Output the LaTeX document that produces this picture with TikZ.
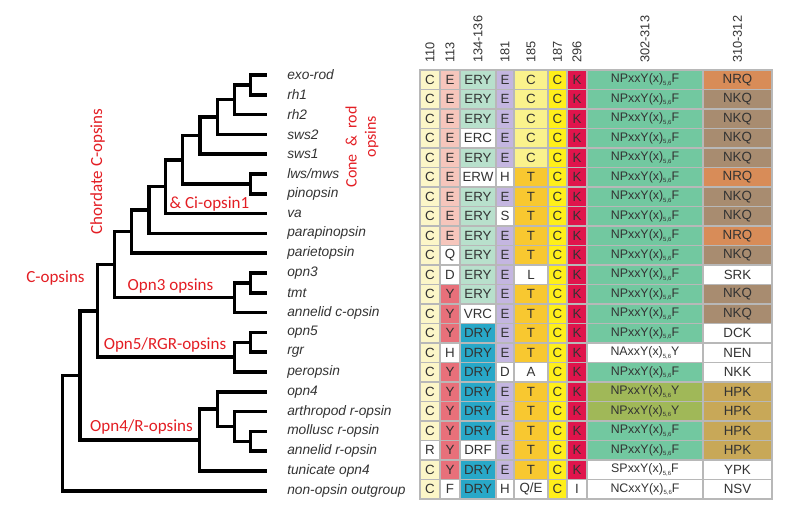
\documentclass[tikz,border=0pt]{standalone}
\usepackage{fontspec}
\setmainfont{Liberation Sans}
\newfontfamily\calib{Carlito}
\definecolor{cpale}{HTML}{FCF6C8}
\definecolor{epink}{HTML}{F6C6BC}
\definecolor{ery}{HTML}{B8E0CC}
\definecolor{elav}{HTML}{C4B6E0}
\definecolor{cyel}{HTML}{FAF28C}
\definecolor{yel}{HTML}{FFEF1A}
\definecolor{kred}{HTML}{E0144C}
\definecolor{npg}{HTML}{72C8A0}
\definecolor{npo}{HTML}{A0B858}
\definecolor{nrq}{HTML}{D88C58}
\definecolor{nkq}{HTML}{A88C70}
\definecolor{hpk}{HTML}{C8A858}
\definecolor{yred}{HTML}{E8707A}
\definecolor{dry}{HTML}{28A8C8}
\definecolor{tora}{HTML}{F8C830}
\definecolor{gridg}{HTML}{B8B8B8}
\definecolor{txt}{HTML}{333333}
\definecolor{redlab}{HTML}{E31E24}
\newcommand{\subf}{\raisebox{-0.4ex}{\fontsize{4.5}{5}\selectfont 5,6}}
\newcommand{\motif}[2]{{\fontsize{9.3}{10}\selectfont #1xxY(x)\subf #2}}
\newcommand{\NPF}{\motif{NP}{F}}
\newcommand{\NPY}{\motif{NP}{Y}}
\newcommand{\NAY}{\motif{NA}{Y}}
\newcommand{\SPF}{\motif{SP}{F}}
\newcommand{\NCF}{\motif{NC}{F}}
\newcommand{\trow}[2]{%
  \foreach \t/\f [count=\c from 0] in {#2} {
    \pgfmathsetmacro\xa{{420,440,460,496,514,548,567,587,703,772}[\c]}
    \pgfmathsetmacro\xb{{420,440,460,496,514,548,567,587,703,772}[\c+1]}
    \pgfmathsetmacro\w{(\xb-\xa)*0.75}
    \node[cellbox, fill=\f, minimum width=\w pt] (r#1c\c) at ({(\xa+\xb)/2},{70+19.5*(#1+0.5)}) {\t};
  }}
\begin{document}
\begin{tikzpicture}[x=0.75pt,y=-0.75pt,
  cellbox/.style={draw=gridg, line width=0.9pt, inner sep=0pt, minimum height=14.625pt,
    font=\fontsize{10}{11}\selectfont, text=txt},
  leaflab/.style={anchor=west, inner sep=0pt, font=\fontsize{10.3}{11}\selectfont\itshape, text=txt},
  headlab/.style={anchor=west, rotate=90, inner sep=0pt, font=\fontsize{9.6}{10}\selectfont, text=txt},
  cladelab/.style={inner sep=0pt, font=\calib\fontsize{12.75}{13}\selectfont, text=redlab},
  branch/.style={line width=2.6pt}]
\useasboundingbox (0,0) rectangle (800,522);

% ---------- table ----------
\trow{0}{C/cpale, E/epink, ERY/ery, E/elav, C/cyel, C/yel, K/kred, \NPF/npg, NRQ/nrq}
\trow{1}{C/cpale, E/epink, ERY/ery, E/elav, C/cyel, C/yel, K/kred, \NPF/npg, NKQ/nkq}
\trow{2}{C/cpale, E/epink, ERY/ery, E/elav, C/cyel, C/yel, K/kred, \NPF/npg, NKQ/nkq}
\trow{3}{C/cpale, E/epink, ERC/white, E/elav, C/cyel, C/yel, K/kred, \NPF/npg, NKQ/nkq}
\trow{4}{C/cpale, E/epink, ERY/ery, E/elav, C/cyel, C/yel, K/kred, \NPF/npg, NKQ/nkq}
\trow{5}{C/cpale, E/epink, ERW/white, H/white, T/tora, C/yel, K/kred, \NPF/npg, NRQ/nrq}
\trow{6}{C/cpale, E/epink, ERY/ery, E/elav, T/tora, C/yel, K/kred, \NPF/npg, NKQ/nkq}
\trow{7}{C/cpale, E/epink, ERY/ery, S/white, T/tora, C/yel, K/kred, \NPF/npg, NKQ/nkq}
\trow{8}{C/cpale, E/epink, ERY/ery, E/elav, T/tora, C/yel, K/kred, \NPF/npg, NRQ/nrq}
\trow{9}{C/cpale, Q/white, ERY/ery, E/elav, T/tora, C/yel, K/kred, \NPF/npg, NKQ/nkq}
\trow{10}{C/cpale, D/white, ERY/ery, E/elav, L/white, C/yel, K/kred, \NPF/npg, SRK/white}
\trow{11}{C/cpale, Y/yred, ERY/ery, E/elav, T/tora, C/yel, K/kred, \NPF/npg, NKQ/nkq}
\trow{12}{C/cpale, Y/yred, VRC/white, E/elav, T/tora, C/yel, K/kred, \NPF/npg, NKQ/nkq}
\trow{13}{C/cpale, Y/yred, DRY/dry, E/elav, T/tora, C/yel, K/kred, \NPF/npg, DCK/white}
\trow{14}{C/cpale, H/white, DRY/dry, E/elav, T/tora, C/yel, K/kred, \NAY/white, NEN/white}
\trow{15}{C/cpale, Y/yred, DRY/dry, D/white, A/white, C/yel, K/kred, \NPF/npg, NKK/white}
\trow{16}{C/cpale, Y/yred, DRY/dry, E/elav, T/tora, C/yel, K/kred, \NPY/npo, HPK/hpk}
\trow{17}{C/cpale, Y/yred, DRY/dry, E/elav, T/tora, C/yel, K/kred, \NPY/npo, HPK/hpk}
\trow{18}{C/cpale, Y/yred, DRY/dry, E/elav, T/tora, C/yel, K/kred, \NPF/npg, HPK/hpk}
\trow{19}{R/white, Y/yred, DRF/white, E/elav, T/tora, C/yel, K/kred, \NPF/npg, HPK/hpk}
\trow{20}{C/cpale, Y/yred, DRY/dry, E/elav, T/tora, C/yel, K/kred, \SPF/white, YPK/white}
\trow{21}{C/cpale, F/white, DRY/dry, H/white, {Q/E}/white, C/yel, I/white, \NCF/white, NSV/white}

% ---------- column headings ----------
\foreach \x/\lab [count=\i] in {430/110, 450/113, 478/134-136, 505/181, 531/185, 557.5/187, 577/296, 645/302-313, 737.5/310-312}
  \node[headlab] (h\i) at (\x,63) {\lab};

% ---------- leaves ----------
\foreach \lab [count=\i from 0] in {exo-rod, rh1, rh2, sws2, sws1, lws/mws, pinopsin, va, parapinopsin,
  parietopsin, opn3, tmt, annelid c-opsin, opn5, rgr, peropsin, opn4, arthropod r-opsin,
  mollusc r-opsin, annelid r-opsin, tunicate opn4, non-opsin outgroup} {
  \coordinate (l\i) at (267,{75+19.8*\i});
  \node[leaflab] (t\i) at (287,{75+19.8*\i}) {\lab};
}

% ---------- internal nodes ----------
\coordinate (n1) at (250.7,84.9);
\coordinate (n2) at (234.3,99.75);
\coordinate (n3) at (217.3,117.1);
\coordinate (n4) at (200,135.6);
\coordinate (n5) at (250.7,183.9);
\coordinate (n6) at (182.7,159.8);
\coordinate (n7) at (165.7,186.7);
\coordinate (n8) at (149,210);
\coordinate (n9) at (131.7,231.6);
\coordinate (n10) at (250.7,282.9);
\coordinate (n11) at (234.3,297.75);
\coordinate (n12) at (114.3,264.7);
\coordinate (n13) at (250.7,342.3);
\coordinate (n14) at (234.3,357.2);
\coordinate (n15) at (97.3,311);
\coordinate (n16) at (250.7,441.3);
\coordinate (n17) at (234.3,426.5);
\coordinate (n18) at (217.3,409.1);
\coordinate (n19) at (199.3,440);
\coordinate (n20) at (80,375.5);
\coordinate (root) at (62.7,433.2);

\foreach \p/\ch in {n1/l0, n1/l1, n2/n1, n2/l2, n3/n2, n3/l3, n4/n3, n4/l4,
  n5/l5, n5/l6, n6/n4, n6/n5, n7/n6, n7/l7, n8/n7, n8/l8, n9/n8, n9/l9,
  n10/l10, n10/l11, n11/n10, n11/l12, n12/n9, n12/n11,
  n13/l13, n13/l14, n14/n13, n14/l15, n15/n12, n15/n14,
  n16/l18, n16/l19, n17/l17, n17/n16, n18/l16, n18/n17, n19/n18, n19/l20,
  n20/n15, n20/n19, root/n20, root/l21}
  \draw[branch] (\p) |- (\ch);

% ---------- clade labels ----------
\node[cladelab] (lc) at (55.5,278) {C-opsins};
\node[cladelab, rotate=90] (lcc) at (97.7,171.5) {Chordate C-opsins};
\node[cladelab] (lci) at (209.5,204) {\& Ci-opsin1};
\node[cladelab] (lo3) at (170.5,286.5) {Opn3 opsins};
\node[cladelab] (lo5) at (165,345) {Opn5/RGR-opsins};
\node[cladelab] (lo4) at (141.5,426.7) {Opn4/R-opsins};
\node[cladelab, rotate=90, font=\calib\fontsize{12}{13}\selectfont] (lcr) at (351,147) {Cone \ \& \ rod};
\node[cladelab, rotate=90, font=\calib\fontsize{12}{13}\selectfont] (lop) at (371.7,136.5) {opsins};
\end{tikzpicture}
\end{document}
